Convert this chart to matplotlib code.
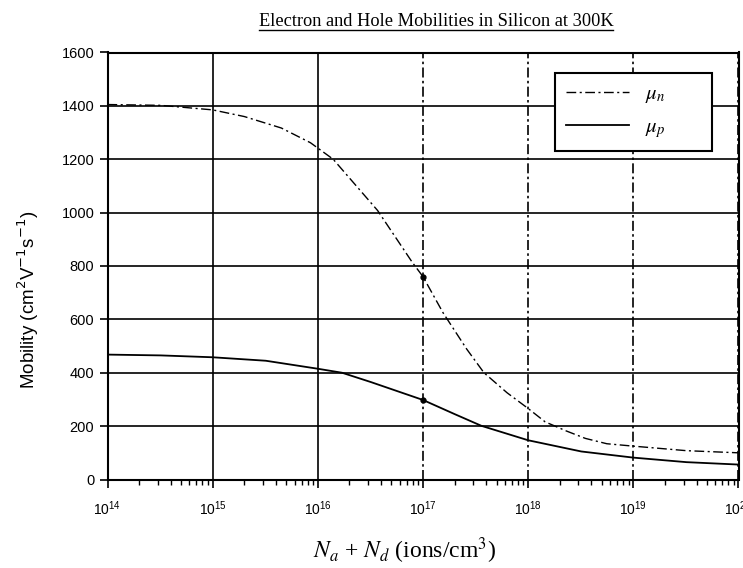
import matplotlib
matplotlib.use("Agg")
import matplotlib.pyplot as plt
from matplotlib.font_manager import FontProperties
from matplotlib.lines import Line2D
from matplotlib.ticker import LogLocator, FixedLocator, NullFormatter, LogFormatterSciNotation

# ---- data ----
N_n = [1e14, 3.2e14, 1e15, 2e15, 4.5e15, 8.5e15, 1.4e16, 3.7e16, 7.9e16, 1e17,
       1.55e17, 2.6e17, 3.8e17, 6.3e17, 1e18, 1.45e18, 2.3e18, 3.5e18, 5.6e18,
       1e19, 3.2e19, 1e20]
mu_n = [1405, 1402, 1385, 1360, 1317, 1262, 1200, 1008, 814, 760,
        625, 489, 400, 325, 266, 216, 182, 154, 134,
        125, 108, 100]

N_p = [1e14, 3.2e14, 1e15, 3.2e15, 1e16, 1.7e16, 3.2e16, 1e17, 2e17, 3.6e17,
       1e18, 3.2e18, 1e19, 3.2e19, 1e20]
mu_p = [468, 465, 458, 445, 415, 400, 365, 298, 245, 201,
        147, 105, 82, 65, 56]

marker_N = [1e17]
marker_mu_n = [760]
marker_mu_p = [298]

x_ticks = [1e14, 1e15, 1e16, 1e17, 1e18, 1e19, 1e20]
y_ticks = [0, 200, 400, 600, 800, 1000, 1200, 1400, 1600]

title_text = "Electron and Hole Mobilities in Silicon at 300K"
xlabel_text = r"$N_a$ + $N_d$ (ions/cm$^3$)"
ylabel_text = r"Mobility (cm$^2$V$^{-1}$s$^{-1}$)"
label_n = r"$\mu_n$"
label_p = r"$\mu_p$"

plt.rcParams['font.family'] = ['Liberation Sans', 'DejaVu Sans']

W, H = 743, 568
fig = plt.figure(figsize=(W / 100, H / 100), dpi=100)
ax = fig.add_axes([107.5 / W, 1 - 479.5 / H, (738.5 - 107.5) / W, (479.5 - 52.5) / H])

ax.set_xscale('log')
ax.set_xlim(x_ticks[0], x_ticks[-1])
ax.set_ylim(y_ticks[0], y_ticks[-1])

# grid
for yv in y_ticks:
    ax.axhline(yv, color='black', lw=1.2, zorder=1)
for xv in x_ticks:
    ls = '-' if xv < 1e17 else (0, (6, 2, 1.5, 2))
    ax.axvline(xv, color='black', lw=1.2, ls=ls, zorder=1)

ln_n, = ax.plot(N_n, mu_n, color='black', lw=1.0, ls=(0, (7, 2.5, 1.5, 2.5)),
                label=label_n, zorder=3)
ln_p, = ax.plot(N_p, mu_p, color='black', lw=1.3, ls='-', label=label_p, zorder=3)
ax.plot(marker_N, marker_mu_n, 'o', color='black', ms=3.5, zorder=4)
ax.plot(marker_N, marker_mu_p, 'o', color='black', ms=3.5, zorder=4)

ax.xaxis.set_major_locator(FixedLocator(x_ticks))
ax.xaxis.set_major_formatter(LogFormatterSciNotation())
ax.xaxis.set_minor_locator(LogLocator(base=10, subs=range(2, 10), numticks=50))
ax.xaxis.set_minor_formatter(NullFormatter())
ax.yaxis.set_major_locator(FixedLocator(y_ticks))

ax.tick_params(axis='both', which='major', direction='out', length=6, width=1.2,
               colors='black')
ax.tick_params(axis='y', which='major', labelsize=10.5)
ax.tick_params(axis='x', which='major', pad=8, labelsize=10)
ax.tick_params(axis='x', which='minor', direction='out', length=3.5, width=1.0)
for s in ax.spines.values():
    s.set_linewidth(1.5)
    s.set_color('black')

leg = ax.legend(handles=[ln_n, ln_p], loc='upper left', mode='expand',
                bbox_to_anchor=(555 / W, 1 - 148 / H, 157 / W, 75 / H),
                bbox_transform=fig.transFigure,
                frameon=True, fancybox=False, framealpha=1, edgecolor='black',
                prop=FontProperties(family='Liberation Serif', size=15, math_fontfamily='stix'),
                handlelength=3.0, handletextpad=0.75, borderpad=0.55, labelspacing=0.6,
                borderaxespad=0)
leg.get_frame().set_linewidth(1.5)
leg.set_zorder(5)

title = fig.text(436 / W, 1 - 22 / H, title_text, ha='center', va='center',
                 family='Liberation Serif', size=13.2, color='black')
fig.text(405 / W, 1 - 551 / H, xlabel_text, ha='center', va='center',
         family='Liberation Serif', size=17, math_fontfamily='stix', color='black')
fig.text(28 / W, 1 - 300 / H, ylabel_text, ha='center', va='center', rotation=90,
         family='Liberation Sans', size=13.5, color='black')

fig.canvas.draw()
bb = title.get_window_extent()
inv = fig.transFigure.inverted()
(x0, y0), (x1, _) = inv.transform([(bb.x0, bb.y0 + 1), (bb.x1, bb.y0 + 1)])
fig.add_artist(Line2D([x0, x1], [y0, y0], transform=fig.transFigure, color='black', lw=1.0))

fig.savefig('out.png', dpi=100)
